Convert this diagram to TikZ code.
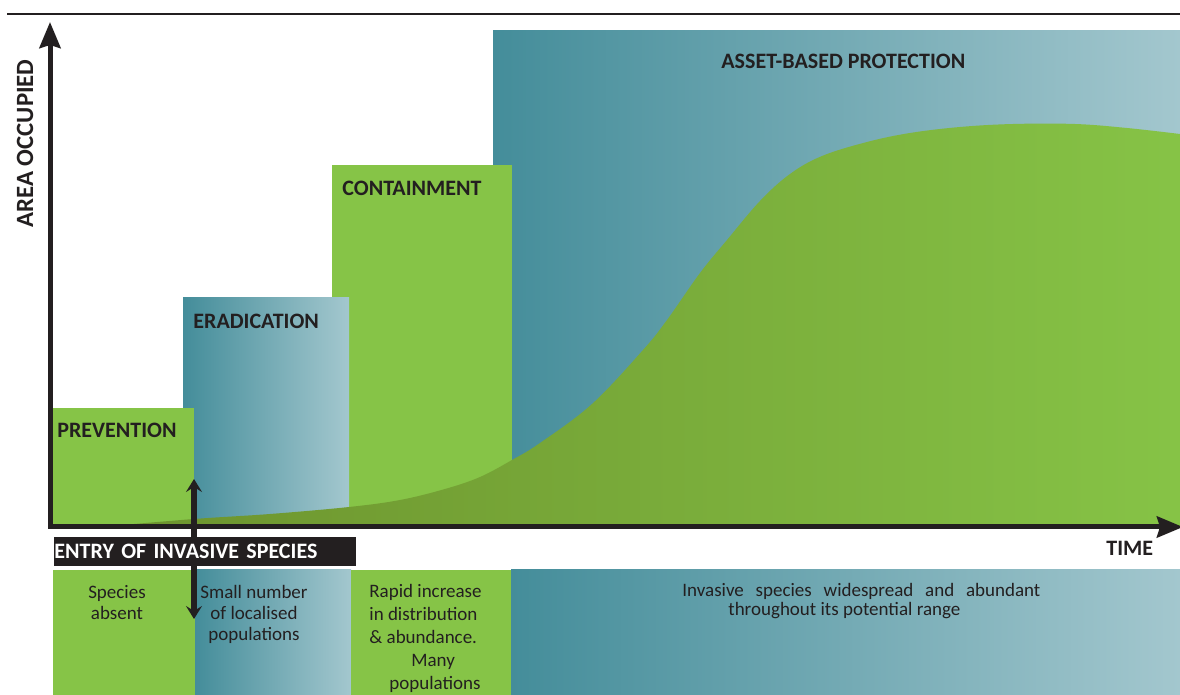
\documentclass[tikz,border=0pt]{standalone}
\usepackage{fontspec}
\setmainfont{Carlito}
\usetikzlibrary{arrows.meta}
\definecolor{ink}{HTML}{231F20}
\definecolor{grn}{HTML}{86C447}
\definecolor{tealD}{HTML}{448D9A}
\definecolor{tealL}{HTML}{A3C7CE}
\definecolor{oliveL}{HTML}{6C922D}
\definecolor{oliveR}{HTML}{86C346}
\begin{document}
\begin{tikzpicture}[x=0.5pt,y=-0.5pt,
  head/.style={font=\fontsize{11}{13}\selectfont\bfseries, text=ink, inner sep=0pt, anchor=west},
  desc/.style={font=\fontsize{9.5}{10.4}\selectfont, text=ink, inner sep=0pt, align=center, anchor=north},
  greenbox/.style={fill=grn},
  tealbox/.style={left color=tealD, right color=tealL},
  axisline/.style={draw=ink, line width=2.5pt, line join=miter},
  entryarrow/.style={draw=ink, line width=2.6pt, {Stealth[length=6.5pt,width=8pt,inset=2.5pt]}-{Stealth[length=6.5pt,width=8pt,inset=2.5pt]}}
]
\useasboundingbox (0,0) rectangle (1180,695);
\fill[white] (0,0) rectangle (1180,695);
% top rule
\draw[ink, line width=1pt] (7,14) -- (1180,14);

% upper stage boxes (right to left so that each overlaps the next)
\shade[tealbox] (493,31) rectangle (1180,527);
\fill[greenbox] (332,165) rectangle (512,527);
\shade[tealbox] (183,298) rectangle (349,527);
\fill[greenbox] (50,408) rectangle (194,527);

% invasion curve
\shade[left color=oliveL, right color=oliveR]
  plot[smooth, tension=0.6] coordinates {(100,527) (194,519) (270,514) (349,507) (400,500) (445,489) (480,477) (512,460) (540,443) (592,404) (643,350) (667,320) (700,273) (727,240) (760,201) (790,174) (822,156) (867,142) (910,133) (960,127) (1013,124) (1075,124) (1127,128) (1180,134)}
  -- (1180,527) -- (100,527) -- cycle;

% axes
\coordinate (ytip) at (50,22);
\coordinate (origin) at (50,527);
\coordinate (xtip) at (1183,527);
\draw[axisline, {Stealth[length=13pt,width=10.5pt,inset=1.5pt]}-{Stealth[length=13pt,width=10.5pt,inset=1.5pt]}] (ytip) -- (origin) -- (xtip);

% stage titles
\node[head] (asset) at (721,61) {ASSET-BASED PROTECTION};
\node[head] (contain) at (342,188) {CONTAINMENT};
\node[head] (erad) at (193,321) {ERADICATION};
\node[head] (prev) at (57,430) {PREVENTION};
\node[head, rotate=90, font=\fontsize{12.4}{14}\selectfont\bfseries] (area) at (25,228) {AREA OCCUPIED};
\node[head] (time) at (1106,548) {TIME};

% lower description boxes
\fill[greenbox] (53,570) rectangle (195,695);
\shade[tealbox] (195,570) rectangle (351,695);
\fill[greenbox] (351,570) rectangle (511,695);
\shade[tealbox] (511,570) rectangle (1180,695);

\node[desc] (absent) at (117,585) {Species\\absent};
\node[desc] (small) at (254,585) {Small number\\of localised\\populations};
\node[desc, align=left, anchor=north west, font=\fontsize{9.5}{11.5}\selectfont] (rapid) at (369,584) {Rapid increase\\in distribution\\\& abundance.\\\hspace*{21pt}Many\\\hspace*{10pt}populations};
\node[desc, align=left, anchor=north west, font=\fontsize{9.5}{9.5}\selectfont] (wide) at (682,583) {\makebox[179pt][s]{Invasive species widespread and abundant}\\\hspace*{23pt}throughout its potential range};

% entry double arrow (drawn below the entry bar)
\coordinate (entrytop) at (194,479);
\coordinate (entrybot) at (194,619);
\draw[entryarrow] (entrytop) -- (entrybot);

% entry bar
\node[head, fill=ink, text=white, text width=151pt, align=left, minimum height=14.5pt] (entry) at (54,551.5) {ENTRY OF INVASIVE SPECIES};
\end{tikzpicture}
\end{document}
